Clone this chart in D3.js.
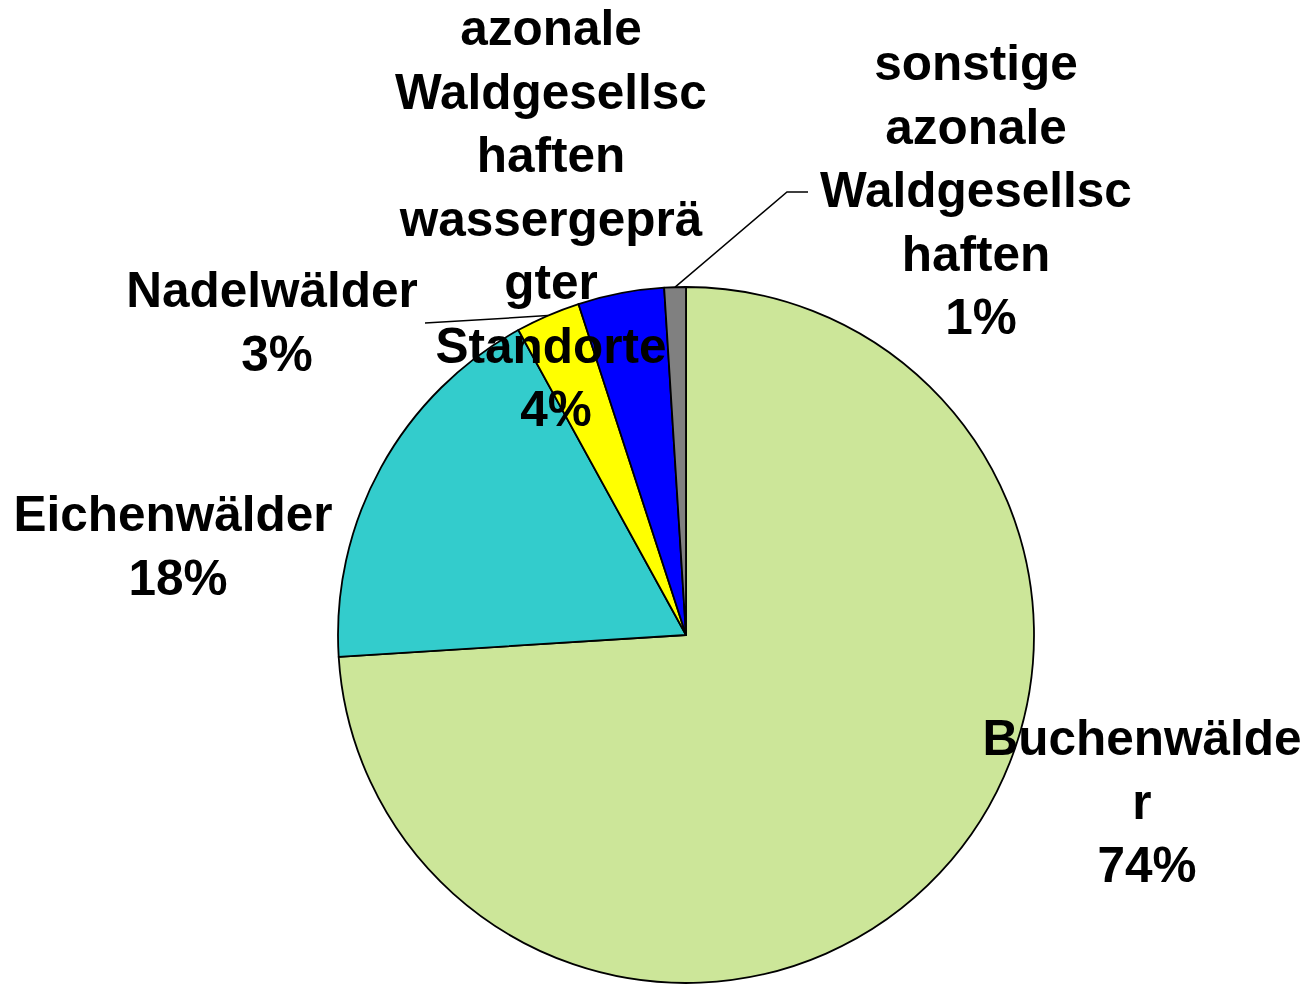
<!DOCTYPE html>
<html>
<head>
<meta charset="utf-8">
<script src="https://cdn.jsdelivr.net/npm/d3@7"></script>
<style>
  html, body { margin: 0; padding: 0; background: #fff; }
  svg { display: block; }
  text { font-family: "Liberation Sans", Arial, sans-serif; font-weight: bold; fill: #000; }
</style>
</head>
<body>
<svg id="chart" width="1304" height="984"></svg>
<script>
// Forest community shares (percent)
const categories = [
  "Buchenwälder",
  "Eichenwälder",
  "Nadelwälder",
  "azonale Waldgesellschaften wassergeprägter Standorte",
  "sonstige azonale Waldgesellschaften"
];
const values = [74, 18, 3, 4, 1];

// Label text broken into lines as displayed
const labelLines = [
  ["Buchenwälde", "r"],
  ["Eichenwälder"],
  ["Nadelwälder"],
  ["azonale", "Waldgesellsc", "haften", "wassergeprä", "gter", "Standorte"],
  ["sonstige", "azonale", "Waldgesellsc", "haften"]
];

const palette = ["#CCE699", "#33CCCC", "#FFFF00", "#0000FF", "#808080"];

// Label placement: centre x, first baseline y
const labelPos = [
  { x: 1142, y: 755 },
  { x: 173, y: 531 },
  { x: 272, y: 307 },
  { x: 551, y: 45 },
  { x: 976, y: 80 }
];
const lineStep = 63.5;

const svg = d3.select("#chart");
const cx = 686, cy = 635, radius = 348;

const pie = d3.pie().sort(null).value(d => d)
  .startAngle(0).endAngle(2 * Math.PI);
const arcs = pie(values);
const arc = d3.arc().innerRadius(0).outerRadius(radius);

const g = svg.append("g").attr("transform", `translate(${cx},${cy})`);

g.selectAll("path.slice")
  .data(arcs)
  .join("path")
  .attr("class", "slice")
  .attr("d", arc)
  .attr("fill", (d, i) => palette[i])
  .attr("stroke", "#000")
  .attr("stroke-width", 1.8)
  .attr("stroke-linejoin", "round");

// Leader lines for the two narrow slices whose labels sit outside
function edgePoint(a) {
  const mid = (a.startAngle + a.endAngle) / 2;
  return [cx + radius * Math.sin(mid), cy - radius * Math.cos(mid)];
}
const leaders = [
  { idx: 2, pts: p => [p, [425, 323]] },
  { idx: 4, pts: p => [p, [787, 192], [808, 192]] }
];
leaders.forEach(l => {
  const p = edgePoint(arcs[l.idx]);
  svg.append("path")
    .attr("d", d3.line()(l.pts(p)))
    .attr("fill", "none")
    .attr("stroke", "#000")
    .attr("stroke-width", 1.5);
});

// Category labels with percentage on the last line
const fmt = v => `${Math.round(v)}%`;
categories.forEach((c, i) => {
  const lines = labelLines[i].map(t => ({ t, pct: false }))
    .concat([{ t: fmt(values[i]), pct: true }]);
  const t = svg.append("text")
    .attr("text-anchor", "middle")
    .attr("font-size", 49.5);
  lines.forEach((ln, j) => {
    t.append("tspan")
      .attr("x", labelPos[i].x + (ln.pct ? 5 : 0))
      .attr("y", labelPos[i].y + j * lineStep)
      .text(ln.t);
  });
});
</script>
</body>
</html>
